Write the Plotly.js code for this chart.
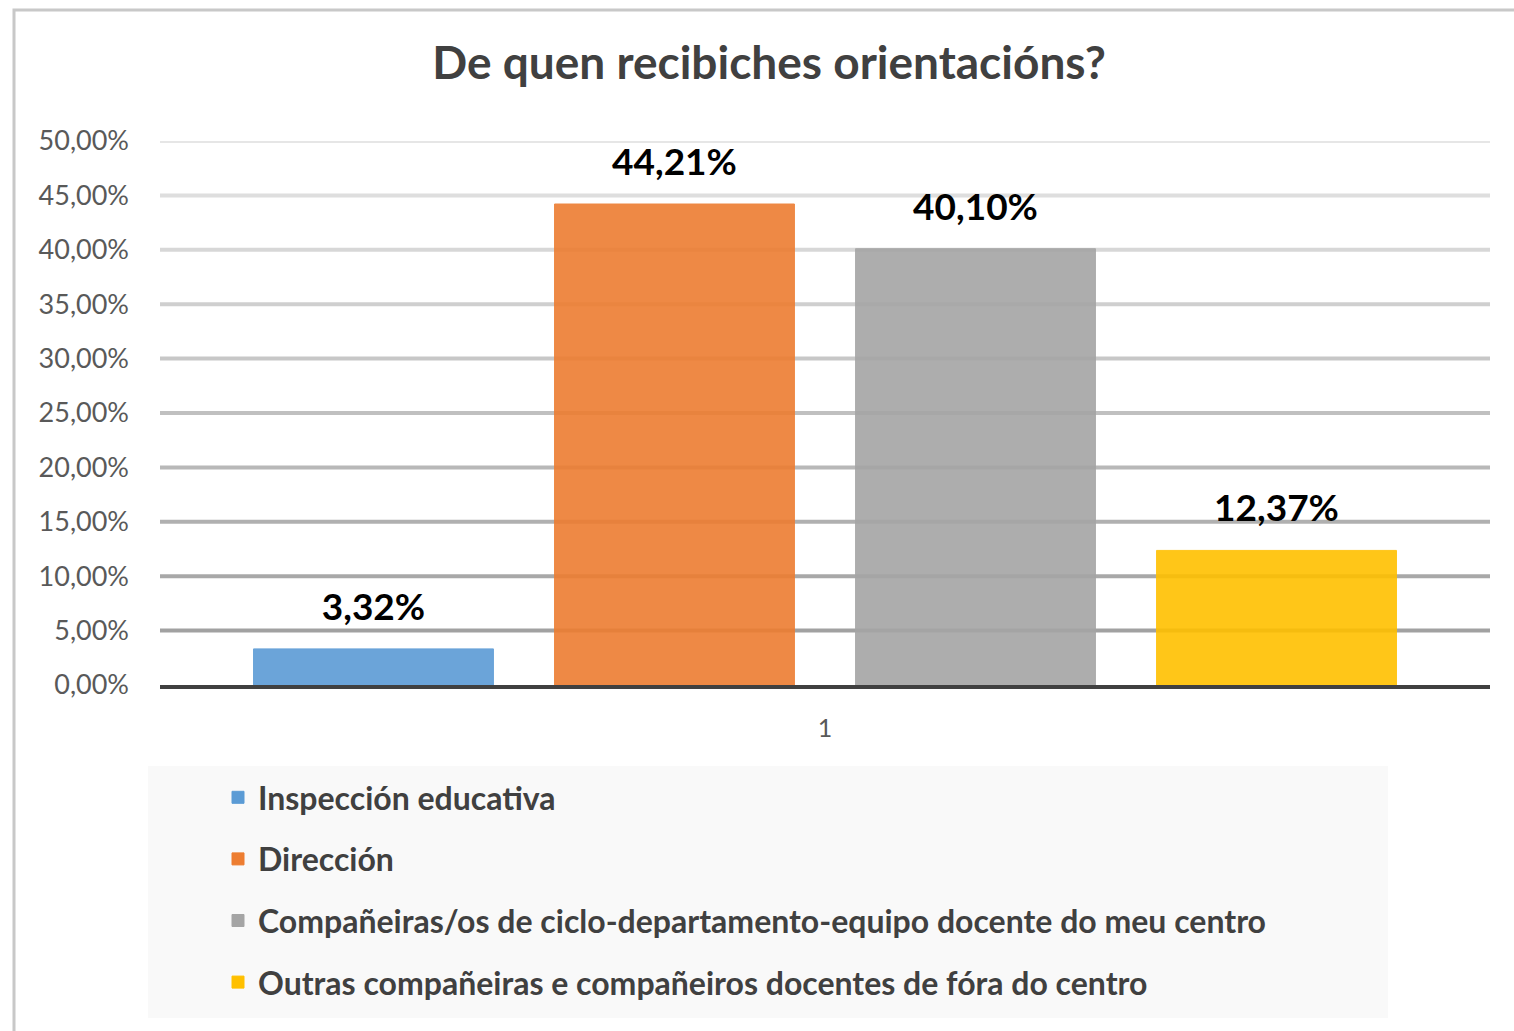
<!DOCTYPE html>
<html>
<head>
<meta charset="utf-8">
<script src="https://cdn.plot.ly/plotly-3.0.1.min.js"></script>
<style>
html,body{margin:0;padding:0;background:#fff;}
#chart{width:1514px;height:1031px;}
</style>
</head>
<body>
<div id="chart"></div>
<script>
// ---- data ----
const categories = ["1"];
const seriesNames = [
  "Inspección educativa",
  "Dirección",
  "Compañeiras/os de ciclo-departamento-equipo docente do meu centro",
  "Outras compañeiras e compañeiros docentes de fóra do centro"
];
const seriesValues = [3.32, 44.21, 40.10, 12.37];
const seriesColors = ["#5b9bd5", "#ed7d31", "#a5a5a5", "#ffc000"];
const yTickValues = [0, 5, 10, 15, 20, 25, 30, 35, 40, 45, 50];
const titleText = "De quen recibiches orientacións?";

const FONT = "Lato, 'Open Sans', sans-serif";
const fmt = v => v.toFixed(2).replace(".", ",") + "%";

const barTraces = seriesNames.map((name, i) => ({
  type: "bar",
  name: name,
  x: categories,
  y: [seriesValues[i]],
  legendgroup: "g" + i,
  marker: {color: seriesColors[i], opacity: 0.9, line: {color: seriesColors[i], width: 1}},
  hoverinfo: "skip"
}));

// value labels: grouped scatter text, offset above bars via an invisible marker
const labelTraces = seriesNames.map((name, i) => ({
  type: "scatter",
  mode: "markers+text",
  x: categories,
  y: [seriesValues[i]],
  text: [fmt(seriesValues[i])],
  textposition: "top center",
  textfont: {family: FONT, size: 37, color: "#000000", weight: "bold"},
  marker: {size: 30, opacity: 0, color: seriesColors[i]},
  cliponaxis: false,
  showlegend: false,
  hoverinfo: "skip"
}));

// gridlines with a light-to-dark gradient (Excel 3D-like look)
function gridColor(v) {
  const t = v / 50;
  const c = Math.round(0x99 + (0xe6 - 0x99) * t);
  return "rgb(" + c + "," + c + "," + c + ")";
}
const shapes = yTickValues.filter(v => v > 0).map(v => ({
  type: "line", xref: "paper", yref: "y", x0: 0, x1: 1, y0: v, y1: v,
  line: {color: gridColor(v), width: 4}, layer: "below"
}));
shapes.push({
  type: "rect", xref: "paper", yref: "paper",
  x0: (14 - 160) / 1330, x1: (1530 - 160) / 1330,
  y0: -2, y1: (685 - 10) / 544,
  line: {color: "#c8c8c8", width: 3}, fillcolor: "rgba(0,0,0,0)", layer: "below"
});
shapes.push({
  type: "rect", xref: "paper", yref: "paper",
  x0: (148 - 160) / 1330, x1: (1388 - 160) / 1330,
  y0: (685 - 1018) / 544, y1: (685 - 766) / 544,
  line: {width: 0}, fillcolor: "#f9f9f9", layer: "below"
});

const layout = {
  width: 1514, height: 1031,
  margin: {l: 160, r: 24, t: 141, b: 346},
  paper_bgcolor: "#ffffff", plot_bgcolor: "rgba(0,0,0,0)",
  separators: ",.",
  barmode: "group",
  bargap: 0.0947,
  bargroupgap: 0.203,
  scattermode: "group",
  scattergap: 0.0947,
  title: {
    text: titleText,
    x: 0.508, xanchor: "center", y: 0.939, yanchor: "middle",
    font: {family: FONT, size: 46, color: "#404040", weight: "bold"}
  },
  xaxis: {
    type: "category",
    showgrid: false,
    showline: true, linecolor: "#404040", linewidth: 4,
    ticks: "", ticklabelstandoff: 18,
    tickfont: {family: FONT, size: 25, color: "#595959"}
  },
  yaxis: {
    range: [0, 50],
    tickvals: yTickValues,
    ticktext: yTickValues.map(fmt),
    showgrid: false, zeroline: false, showline: false,
    ticks: "", ticklabelstandoff: 30,
    tickfont: {family: FONT, size: 27, color: "#595959"}
  },
  showlegend: true,
  legend: {
    orientation: "v",
    x: (218 - 160) / 1330, xanchor: "left",
    y: (685 - 770) / 544, yanchor: "top",
    bgcolor: "rgba(0,0,0,0)",
    traceorder: "grouped",
    tracegroupgap: 17,
    font: {family: FONT, size: 32, color: "#404040", weight: "bold"},
    itemclick: false, itemdoubleclick: false
  },
  shapes: shapes
};

Plotly.newPlot("chart", barTraces.concat(labelTraces), layout, {displayModeBar: false, staticPlot: true});
</script>
</body>
</html>
